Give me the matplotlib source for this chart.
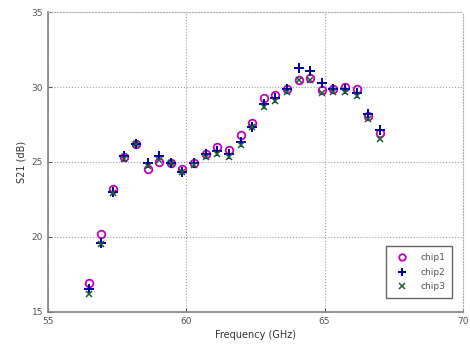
import numpy as np
import matplotlib
matplotlib.use("Agg")
import matplotlib.pyplot as plt

# frequency points (GHz)
freq = [56.50, 56.92, 57.34, 57.76, 58.18, 58.60, 59.02, 59.44, 59.86, 60.28,
        60.70, 61.12, 61.54, 61.96, 62.38, 62.80, 63.22, 63.64, 64.06, 64.48,
        64.90, 65.32, 65.74, 66.16, 66.58, 67.00]

chip1 = [16.9, 20.2, 23.2, 25.3, 26.2, 24.5, 25.0, 24.9, 24.5, 24.9,
         25.5, 26.0, 25.8, 26.8, 27.6, 29.3, 29.5, 29.9, 30.5, 30.6,
         29.8, 29.9, 30.0, 29.9, 28.1, 26.9]
chip2 = [16.5, 19.6, 23.0, 25.4, 26.2, 24.9, 25.4, 24.9, 24.3, 24.9,
         25.5, 25.7, 25.5, 26.3, 27.3, 28.9, 29.3, 29.9, 31.3, 31.1,
         30.3, 29.9, 29.9, 29.6, 28.2, 27.1]
chip3 = [16.2, 19.5, 22.9, 25.2, 26.2, 24.7, 25.1, 24.9, 24.3, 24.8,
         25.3, 25.5, 25.3, 26.1, 27.3, 28.7, 29.1, 29.7, 30.5, 30.5,
         29.6, 29.7, 29.7, 29.4, 27.9, 26.5]

fig = plt.figure(figsize=(4.7, 3.45), dpi=100)
ax = fig.add_axes([0.102, 0.096, 0.883, 0.869])

ax.plot(freq, chip1, 'o', color='#c000c0', mfc='none', mew=1.3, ms=5.5, label='chip1')
ax.plot(freq, chip2, '+', color='#0000a0', mew=1.4, ms=7, label='chip2')
ax.plot(freq, chip3, 'x', color='#1a6030', mew=1.1, ms=5, label='chip3')

ax.set_xlim(55, 70)
ax.set_ylim(15, 35)
ax.set_xticks([55, 60, 65, 70])
ax.set_yticks([15, 20, 25, 30, 35])
ax.grid(True, linestyle=':', color='#a0a0a0', linewidth=0.8)
ax.tick_params(direction='in', labelsize=6.5, colors='#555555', length=3)
for s in ['left', 'bottom']:
    ax.spines[s].set_color('#808080')
    ax.spines[s].set_linewidth(1.2)
for s in ['top', 'right']:
    ax.spines[s].set_color('#b0b0b0')
    ax.spines[s].set_linestyle(':')

ax.set_xlabel('Frequency (GHz)', fontsize=7, color='#333333', labelpad=3)
ax.set_ylabel('S21 (dB)', fontsize=7, color='#333333', labelpad=4)

leg = ax.legend(loc='lower right', fontsize=6.5, fancybox=False, edgecolor='#404040',
                borderpad=0.8, labelspacing=0.6, handletextpad=1.0, markerscale=0.85,
                bbox_to_anchor=(0.985, 0.03))
for t in leg.get_texts():
    t.set_color('#555555')

plt.savefig('out.png', dpi=100)
